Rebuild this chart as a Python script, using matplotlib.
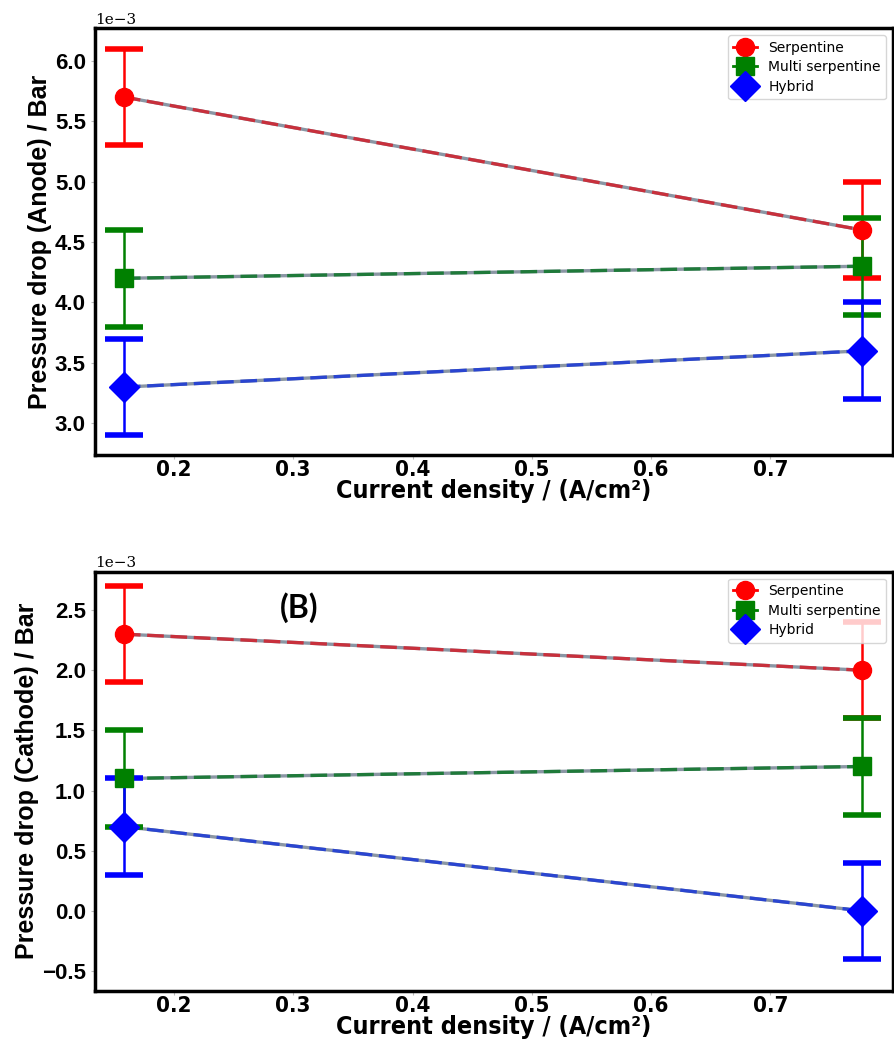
import numpy as np
import matplotlib
matplotlib.use("Agg")
import matplotlib.pyplot as plt
from matplotlib.lines import Line2D

# current density (A/cm2)
x = [0.158, 0.777]

# anode pressure drop (bar)
anode_serp = [5.7e-3, 4.6e-3]
anode_multi = [4.2e-3, 4.3e-3]
anode_hyb = [3.3e-3, 3.6e-3]

# cathode pressure drop (bar)
cath_serp = [2.3e-3, 2.0e-3]
cath_multi = [1.1e-3, 1.2e-3]
cath_hyb = [0.7e-3, 0.0]

err = 0.4e-3
labels = ["Serpentine", "Multi serpentine", "Hybrid"]
colors = ["red", "green", "blue"]
dash_cols = ["#c8303c", "#1f7a3a", "#2a45d0"]
markers = ["o", "s", "D"]
msizes = [13, 13, 15]

wide = ["Liberation Sans", "DejaVu Sans"]

fig = plt.figure(figsize=(8.95, 10.43), dpi=100)
ax1 = fig.add_axes([0.106, 0.564, 0.892, 0.409])
ax2 = fig.add_axes([0.106, 0.050, 0.892, 0.402])


def draw(ax, series, ylim, yticks, ylabel):
    for y, c, dc, m, ms in zip(series, colors, dash_cols, markers, msizes):
        ax.errorbar(x, y, yerr=err, fmt=m, color=c, ms=ms, ecolor=c,
                    elinewidth=1.8, capsize=14, capthick=4, zorder=3)
        ax.plot(x, y, color="#8a96a4", lw=2.4, zorder=2)
        ax.plot(x, y, color=dc, lw=2.4, ls=(0, (5, 2)), zorder=2)
    ax.set_xlim(0.1337, 0.803)
    ax.set_ylim(*ylim)
    ax.set_xticks([0.2, 0.3, 0.4, 0.5, 0.6, 0.7])
    ax.set_yticks(yticks)
    ax.ticklabel_format(axis="y", style="sci", scilimits=(0, 0))
    for lab in ax.get_xticklabels():
        lab.set_family("DejaVu Sans")
        lab.set_stretch("condensed")
        lab.set_fontweight("bold")
        lab.set_fontsize(16)
    for lab in ax.get_yticklabels():
        lab.set_family(wide)
        lab.set_fontweight("bold")
        lab.set_fontsize(16)
    ax.yaxis.get_offset_text().set_fontsize(11)
    ax.yaxis.get_offset_text().set_family("DejaVu Serif")
    ax.set_xlabel("Current density / (A/cm²)", fontsize=18, fontweight="bold",
                  family="DejaVu Sans", fontstretch="condensed", labelpad=-1)
    ax.set_ylabel(ylabel, fontsize=18, fontweight="bold", family=wide, labelpad=2)
    ax.tick_params(length=3, width=0.8, color="#bbbbbb")
    ax.tick_params(axis="x", pad=1)
    for sp in ax.spines.values():
        sp.set_linewidth(2.5)
    handles = [Line2D([0], [0], color=c, marker=m, ms=ms, lw=2)
               for c, m, ms in zip(colors, markers, msizes)]
    ax.legend(handles, labels, loc="upper right", fontsize=10,
              handlelength=1.7, framealpha=0.8, borderaxespad=0.5,
              labelspacing=0.4, handletextpad=0.8)


draw(ax1, [anode_serp, anode_multi, anode_hyb], (2.74e-3, 6.27e-3),
     np.arange(3.0, 6.01, 0.5) * 1e-3, "Pressure drop (Anode) / Bar")
draw(ax2, [cath_serp, cath_multi, cath_hyb], (-0.665e-3, 2.82e-3),
     np.arange(-0.5, 2.51, 0.5) * 1e-3, "Pressure drop (Cathode) / Bar")

ax2.text(0.305, 2.52e-3, "(B)", fontsize=23, fontweight="bold", family="Lato",
         ha="center", va="center")

fig.savefig("out.png", dpi=100)
